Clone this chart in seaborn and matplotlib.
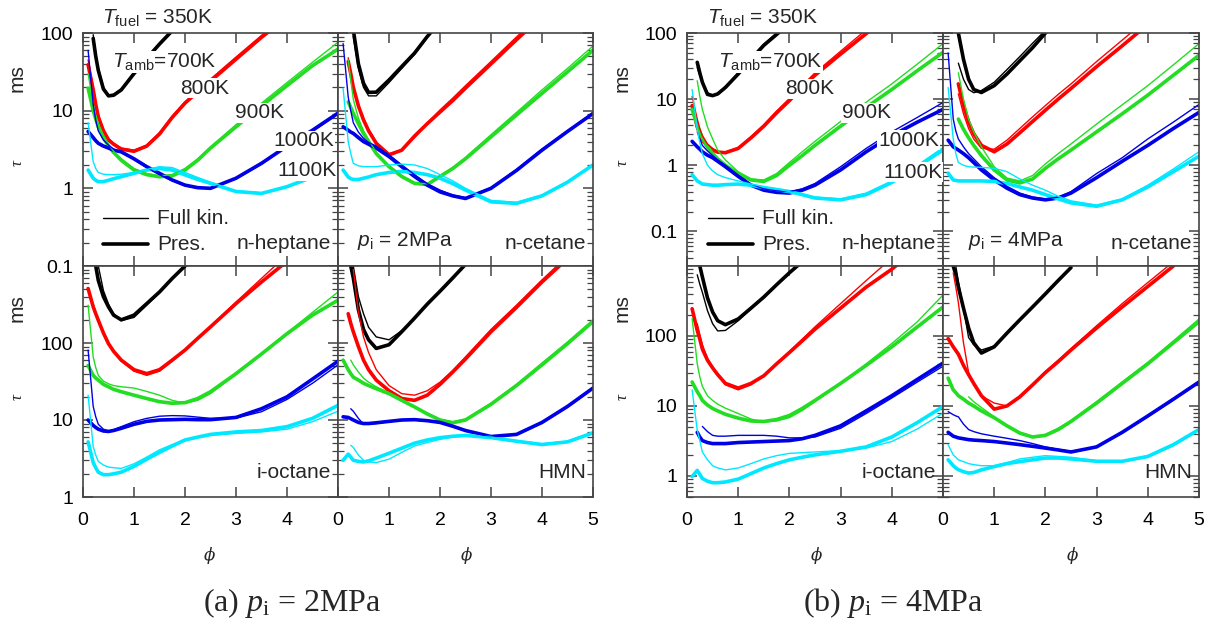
import numpy as np
import matplotlib
matplotlib.use('Agg')
import matplotlib.pyplot as plt
import seaborn as sns
from matplotlib.lines import Line2D
from matplotlib.ticker import FixedLocator, FixedFormatter, LogLocator, NullFormatter

N = None
PHI = [0.1, 0.2, 0.25, 0.3, 0.4, 0.5, 0.6, 0.75, 1.0, 1.25, 1.5, 1.75, 2.0, 2.25, 2.5, 3.0, 3.5, 4.0, 4.5, 5.0]
TEMPS = ['700K', '800K', '900K', '1000K', '1100K']
COLORS = ['#000000', '#ff0000', '#22dd22', '#0000e6', '#00e8ff']

# ---------------- 2 MPa : n-heptane ----------------
hep2_pres = [
    [N, 85, 50, 33, 19, 15.5, 15.8, 18.5, 30, 47, 72, 107, 160, N, N, N, N, N, N, N],
    [39, 18.6, 12, 8.3, 5.5, 4.2, 3.7, 3.2, 3.0, 3.5, 5.0, 8.2, 12.5, 17.5, 24, 46, 88, 160, N, N],
    [19.5, 10, 7.8, 6.2, 4.5, 3.5, 2.9, 2.3, 1.72, 1.5, 1.41, 1.45, 1.72, 2.3, 3.3, 6.2, 11.5, 21, 38, 62],
    [5.4, 4.5, 4.1, 3.8, 3.5, 3.3, 3.1, 2.95, 2.4, 1.9, 1.56, 1.28, 1.1, 1.02, 1.0, 1.35, 2.1, 3.5, 5.6, 9.3],
    [1.72, 1.35, 1.27, 1.22, 1.22, 1.27, 1.33, 1.41, 1.56, 1.72, 1.8, 1.72, 1.49, 1.3, 1.16, 0.91, 0.86, 1.05, 1.4, 1.9],
]
hep2_full = [
    [N, 95, 55, 35, 20, 16, 16.2, 19, 31, 48, 74, 110, 165, N, N, N, N, N, N, N],
    [45, 20, 13, 9, 5.8, 4.4, 3.8, 3.3, 3.1, 3.6, 5.2, 8.5, 13, 18, 25.5, 49, 93, 170, N, N],
    [30, 12, 8.5, 6.8, 4.8, 3.7, 3.0, 2.4, 1.8, 1.55, 1.45, 1.5, 1.8, 2.4, 3.4, 6.6, 12.5, 23, 42, 76],
    [60, 12, 7.5, 5.5, 4.2, 3.6, 3.2, 2.9, 2.35, 1.85, 1.5, 1.25, 1.08, 1.0, 1.0, 1.32, 2.05, 3.4, 5.4, 9.0],
    [7, 2.2, 1.8, 1.6, 1.52, 1.5, 1.5, 1.52, 1.6, 1.75, 1.9, 1.85, 1.6, 1.38, 1.2, 0.93, 0.87, 1.03, 1.35, 1.8],
]
# ---------------- 2 MPa : n-cetane ----------------
cet2_pres = [
    [N, N, N, 110, 40, 22.5, 17.2, 17.3, 24.8, 37, 55, 90, 140, N, N, N, N, N, N, N],
    [N, 43, 30, 20, 11.5, 7.6, 5.5, 3.8, 2.7, 3.1, 4.7, 6.8, 9.6, 13.5, 19.5, 40, 82, 165, N, N],
    [N, 13, 11, 9.2, 6.8, 5.1, 4.0, 2.8, 1.9, 1.42, 1.16, 1.12, 1.42, 1.8, 2.4, 4.6, 8.8, 16.7, 31.6, 60],
    [6.2, 5.6, 5.3, 5.1, 4.5, 4.0, 3.7, 3.3, 2.57, 1.9, 1.42, 1.1, 0.9, 0.8, 0.74, 1.0, 1.7, 3.1, 5.4, 9.2],
    [1.72, 1.4, 1.33, 1.3, 1.3, 1.35, 1.4, 1.5, 1.6, 1.65, 1.6, 1.5, 1.35, 1.15, 0.95, 0.67, 0.64, 0.8, 1.2, 2.0],
]
cet2_full = [
    [N, N, N, 90, 35, 20, 15.5, 15.5, 23, 35, 53, 88, 140, N, N, N, N, N, N, N],
    [N, 48, 32, 21, 12, 8, 5.8, 3.9, 2.8, 3.1, 4.5, 6.9, 10.2, 14.5, 21, 43, 89, 180, N, N],
    [N, 45, 25, 14, 8, 5.5, 4.2, 2.9, 1.95, 1.45, 1.18, 1.14, 1.45, 1.85, 2.5, 4.9, 9.5, 18.5, 35, 68],
    [73, 15, 10, 7, 5.3, 4.4, 3.9, 3.5, 2.7, 2.0, 1.5, 1.15, 0.95, 0.82, 0.76, 1.02, 1.75, 3.2, 5.5, 9.4],
    [19.5, 4, 2.8, 2.1, 1.95, 1.9, 1.9, 1.9, 2.0, 2.05, 2.0, 1.8, 1.5, 1.25, 1.0, 0.7, 0.66, 0.82, 1.22, 2.0],
]
# ---------------- 2 MPa : i-octane ----------------
oct2_pres = [
    [N, N, 1000, 650, 400, 294, 230, 200, 230, 325, 460, 690, 1000, 1450, N, N, N, N, N, N],
    [510, 295, 240, 197, 135, 98, 78, 60, 45, 40, 45, 60, 81, 115, 162, 325, 620, 1150, N, N],
    [51, 38, 35, 33, 29, 27, 25, 23.3, 21, 19, 17.3, 16.5, 16.8, 19, 23.3, 40, 72, 132, 230, 360],
    [10, 8.5, 8.0, 7.6, 7.2, 7.1, 7.3, 7.8, 8.8, 9.6, 10.0, 10.1, 10.2, 10.1, 10.1, 10.8, 14, 20, 34, 58],
    [5.2, 2.8, 2.4, 2.1, 1.95, 1.95, 2.0, 2.1, 2.5, 3.1, 3.8, 4.6, 5.5, 6.0, 6.5, 7.0, 7.3, 8.2, 10.5, 15.5],
]
oct2_full = [
    [N, N, N, 1000, 480, 320, 240, 195, 215, 310, 450, 680, 1000, N, N, N, N, N, N, N],
    [N, 320, 250, 205, 140, 100, 78, 58, 43, 38, 43, 58, 80, 115, 165, 340, 690, 1400, N, N],
    [310, 66, 48, 38, 32, 29.5, 28, 27, 26, 23.5, 21, 18, 16.5, 18, 22, 39, 72, 135, 250, 460],
    [81, 15, 11, 8.8, 7.6, 7.2, 7.5, 8.2, 9.5, 10.5, 11.2, 11.4, 11.3, 10.9, 10.5, 10.6, 12.8, 18.5, 30, 52],
    [21, 4.5, 3.5, 2.9, 2.6, 2.45, 2.4, 2.35, 2.7, 3.3, 4.1, 4.8, 5.5, 5.9, 6.3, 6.7, 7.0, 7.6, 9.5, 13],
]
# ---------------- 2 MPa : HMN ----------------
hmn2_pres = [
    [N, N, 1000, 700, 270, 150, 110, 85, 95, 140, 210, 320, 470, 700, 1050, N, N, N, N, N],
    [N, 240, 180, 140, 90, 60, 45, 33, 24, 19, 18, 21, 29, 42, 62, 140, 290, 620, 1250, N],
    [60, 45, 40, 36, 33, 30, 28, 25.5, 22, 18, 14.8, 12, 10, 9.2, 10, 16, 28, 52, 98, 190],
    [11, 10.8, 10.4, 10, 9.3, 9, 9, 9.2, 9.6, 10, 10.1, 9.8, 9.3, 8.3, 7.3, 6.1, 6.5, 9.3, 15, 26],
    [3.0, 3.6, 3.3, 3.0, 2.9, 2.85, 2.95, 3.2, 3.7, 4.3, 5.0, 5.5, 5.9, 6.15, 6.3, 5.9, 5.3, 4.8, 5.2, 6.8],
]
hmn2_full = [
    [N, N, N, 1000, 400, 240, 160, 120, 110, 145, 210, 310, 460, 680, 1050, N, N, N, N, N],
    [N, N, N, 900, 250, 120, 75, 45, 28, 22, 21, 24, 31, 44, 66, 150, 310, 660, 1350, N],
    [N, N, 60, 52, 42, 35, 31, 27, 22.5, 18, 15, 12.2, 10.2, 9.5, 10.3, 16.5, 29, 55, 103, 200],
    [N, N, 14, 13, 10.5, 8.8, 8.8, 9.0, 9.5, 9.9, 10.0, 9.7, 9.2, 8.2, 7.2, 6.0, 6.4, 9.1, 14.7, 25.5],
    [N, N, 4.7, 4.4, 3.5, 3.0, 2.85, 2.8, 3.1, 3.8, 4.6, 5.1, 5.6, 6.0, 6.2, 6.0, 5.4, 4.9, 5.3, 6.9],
]
# ---------------- 4 MPa : n-heptane ----------------
hep4_pres = [
    [N, 36, 25, 18, 11.8, 11.3, 12, 15, 24, 40, 65, 95, 140, N, N, N, N, N, N, N],
    [8, 3.8, 3.0, 2.4, 1.95, 1.7, 1.58, 1.55, 1.8, 2.6, 3.9, 6.2, 9.5, 15, 23, 48, 98, 200, N, N],
    [7, 4, 3.2, 2.6, 1.9, 1.5, 1.25, 1.0, 0.75, 0.6, 0.57, 0.7, 1.0, 1.4, 2.0, 3.9, 7.5, 14, 27, 51],
    [2.3, 1.9, 1.75, 1.6, 1.42, 1.3, 1.15, 0.95, 0.68, 0.5, 0.42, 0.39, 0.38, 0.42, 0.5, 0.85, 1.6, 2.8, 4.5, 7.0],
    [0.72, 0.58, 0.55, 0.52, 0.51, 0.5, 0.5, 0.51, 0.52, 0.5, 0.46, 0.43, 0.4, 0.36, 0.32, 0.3, 0.36, 0.55, 0.95, 1.7],
]
hep4_full = [
    [N, 30, 23, 18, 12.5, 11.5, 12, 15.5, 25, 42, 68, 100, 150, N, N, N, N, N, N, N],
    [11, 5, 3.6, 2.8, 2.1, 1.8, 1.62, 1.58, 1.85, 2.7, 4.1, 6.6, 10.2, 16, 25, 53, 112, 230, N, N],
    [N, 19, 11, 7, 3.8, 2.5, 1.7, 1.2, 0.8, 0.62, 0.6, 0.75, 1.1, 1.6, 2.3, 4.6, 9, 17, 34, 69],
    [N, 3.2, 2.5, 2.0, 1.65, 1.4, 1.2, 1.0, 0.7, 0.52, 0.44, 0.41, 0.4, 0.44, 0.53, 0.95, 1.8, 3.2, 5.3, 8.9],
    [14, 3.5, 2.2, 1.5, 1.0, 0.82, 0.72, 0.65, 0.58, 0.52, 0.47, 0.44, 0.4, 0.36, 0.33, 0.31, 0.38, 0.58, 1.0, 1.85],
]
# ---------------- 4 MPa : n-cetane ----------------
cet4_pres = [
    [N, N, N, 100, 40, 20, 14, 12.6, 16, 24, 38, 60, 100, 160, N, N, N, N, N, N],
    [N, N, N, 17, 8, 4.5, 3.0, 2.0, 1.6, 2.1, 3.1, 4.6, 6.8, 10, 14.5, 31, 64, 135, N, N],
    [N, N, N, 5, 3.5, 2.6, 2.0, 1.4, 0.85, 0.6, 0.54, 0.62, 0.9, 1.25, 1.7, 3.2, 6.0, 11.5, 23, 46],
    [2.4, 1.9, 1.8, 1.7, 1.5, 1.3, 1.1, 0.85, 0.6, 0.45, 0.36, 0.32, 0.30, 0.32, 0.38, 0.65, 1.15, 2.0, 3.6, 6.3],
    [0.76, 0.6, 0.59, 0.58, 0.58, 0.58, 0.58, 0.58, 0.57, 0.53, 0.47, 0.42, 0.36, 0.31, 0.27, 0.24, 0.3, 0.47, 0.8, 1.37],
]
cet4_full = [
    [N, N, N, 35, 20, 14, 12.5, 13.5, 18, 28, 44, 70, 110, N, N, N, N, N, N, N],
    [N, N, N, 12, 6, 3.6, 2.5, 1.8, 1.75, 2.4, 3.6, 5.4, 8, 11.8, 17, 37, 78, 165, N, N],
    [N, N, N, 25, 10, 5, 3.2, 1.9, 0.95, 0.64, 0.58, 0.7, 1.05, 1.5, 2.1, 4.2, 8.2, 16, 33, 69],
    [50, 5, 3.3, 2.5, 1.9, 1.5, 1.25, 0.95, 0.65, 0.48, 0.38, 0.33, 0.31, 0.33, 0.40, 0.75, 1.3, 2.5, 4.5, 8.3],
    [15, 2.5, 1.5, 1.1, 1.0, 0.95, 0.94, 0.93, 0.9, 0.8, 0.62, 0.5, 0.42, 0.34, 0.29, 0.25, 0.31, 0.5, 0.88, 1.6],
]
# ---------------- 4 MPa : i-octane ----------------
oct4_pres = [
    [N, N, 1000, 700, 350, 220, 165, 145, 175, 250, 360, 540, 800, 1150, N, N, N, N, N, N],
    [245, 120, 90, 65, 45, 35, 28, 21, 18, 21, 27, 40, 58, 85, 125, 250, 500, 900, 1800, N],
    [22, 16, 14, 12, 10.3, 9.2, 8.5, 7.6, 6.7, 6.1, 6.0, 6.4, 7.3, 9.2, 12, 21, 38, 70, 135, 260],
    [N, 4.2, 3.6, 3.2, 3.0, 2.9, 2.9, 2.9, 3.0, 3.05, 3.1, 3.15, 3.2, 3.4, 3.8, 5.2, 8.5, 14, 24, 41],
    [0.98, 1.2, 1.05, 0.92, 0.84, 0.8, 0.8, 0.82, 0.9, 1.08, 1.3, 1.5, 1.7, 1.85, 2.0, 2.25, 2.6, 3.6, 5.8, 9.8],
]
oct4_full = [
    [N, 750, 550, 420, 230, 150, 118, 120, 165, 245, 350, 530, 780, 1150, N, N, N, N, N, N],
    [N, 150, 105, 75, 48, 36, 28, 20, 17, 20, 27, 40, 60, 90, 135, 290, 620, 1300, N, N],
    [178, 40, 26, 19, 14, 12, 10.6, 9.3, 7.8, 6.5, 5.9, 6.1, 6.8, 8.6, 11.5, 21, 40, 78, 160, 385],
    [N, N, N, 5.1, 4.3, 3.8, 3.7, 3.7, 3.8, 3.8, 3.8, 3.7, 3.5, 3.5, 3.6, 4.8, 7.8, 13, 22, 37],
    [17, 4.5, 3.2, 2.2, 1.7, 1.4, 1.3, 1.22, 1.3, 1.5, 1.75, 1.95, 2.1, 2.15, 2.2, 2.3, 2.5, 3.1, 4.7, 7.9],
]
# ---------------- 4 MPa : HMN ----------------
hmn4_pres = [
    [N, 1000, 750, 500, 250, 130, 80, 57, 70, 110, 170, 260, 400, 620, 950, N, N, N, N, N],
    [92, 70, 62, 55, 38, 28, 21, 14, 9, 10, 13.5, 20, 30, 43, 63, 130, 260, 510, 1000, N],
    [25, 17, 15.5, 14, 12.5, 11, 10, 8.5, 6.8, 5.2, 4.1, 3.6, 3.8, 4.6, 6, 11, 21, 40, 80, 160],
    [4.2, 3.7, 3.6, 3.5, 3.4, 3.3, 3.25, 3.2, 3.1, 2.95, 2.8, 2.65, 2.5, 2.35, 2.2, 2.6, 4.2, 7.2, 12.5, 22],
    [1.7, 1.4, 1.3, 1.23, 1.15, 1.1, 1.12, 1.22, 1.36, 1.5, 1.6, 1.7, 1.8, 1.8, 1.75, 1.62, 1.62, 1.9, 2.8, 4.6],
]
hmn4_full = [
    [N, N, 1000, 600, 250, 95, 75, 63, 72, 110, 170, 260, 400, 620, 960, N, N, N, N, N],
    [N, 800, 500, 300, 80, 30, 20, 14, 11, 10, 13, 20, 31, 45, 66, 140, 290, 580, 1150, N],
    [N, N, N, N, N, 13.5, 11.5, 9.5, 7, 5.2, 4.0, 3.55, 3.9, 4.8, 6.2, 11.5, 22, 42, 85, 175],
    [8.3, 7.5, 7.2, 7, 5.5, 4.6, 4.3, 4.0, 3.7, 3.45, 3.2, 2.9, 2.6, 2.4, 2.25, 2.6, 4.1, 7.0, 12.2, 21.5],
    [2.8, 2.0, 1.85, 1.7, 1.6, 1.5, 1.45, 1.4, 1.4, 1.55, 1.75, 1.85, 1.95, 1.9, 1.85, 1.65, 1.6, 1.85, 2.7, 4.5],
]

FUELS = ['n-heptane', 'n-cetane', 'i-octane', 'HMN']

# ---------------------------------------------------------------------------
sns.set_style('ticks')
plt.rcParams['font.family'] = ['Liberation Sans', 'DejaVu Sans']
plt.rcParams['mathtext.fontset'] = 'custom'
plt.rcParams['mathtext.rm'] = 'Liberation Serif'
plt.rcParams['mathtext.it'] = 'Liberation Serif:italic'
plt.rcParams['mathtext.sf'] = 'Liberation Sans'
plt.rcParams['mathtext.bf'] = 'Liberation Sans:italic'

W, H = 1211, 627
fig = plt.figure(figsize=(W / 100, H / 100), dpi=100)
SPINE = '#444444'


def add_ax(x0, y0, x1, y1):
    return fig.add_axes([x0 / W, 1 - y1 / H, (x1 - x0) / W, (y1 - y0) / H])


def fx(x):
    return x / W


def fy(y):
    return 1 - y / H


panels = [
    # x0, y0, x1, y1, full, pres, ylim, yticks, left_col, bottom_row, fuel
    (83, 33, 338, 266, hep2_full, hep2_pres, (0.1, 100), [0.1, 1, 10, 100], True, False, 0),
    (338, 33, 593, 266, cet2_full, cet2_pres, (0.1, 100), [0.1, 1, 10, 100], False, False, 1),
    (83, 266, 338, 497, oct2_full, oct2_pres, (1, 1000), [1, 10, 100], True, True, 2),
    (338, 266, 593, 497, hmn2_full, hmn2_pres, (1, 1000), [1, 10, 100], False, True, 3),
    (687, 33, 943, 266, hep4_full, hep4_pres, (0.03, 100), [0.1, 1, 10, 100], True, False, 0),
    (943, 33, 1199, 266, cet4_full, cet4_pres, (0.03, 100), [0.1, 1, 10, 100], False, False, 1),
    (687, 266, 943, 497, oct4_full, oct4_pres, (0.5, 1000), [1, 10, 100], True, True, 2),
    (943, 266, 1199, 497, hmn4_full, hmn4_pres, (0.5, 1000), [1, 10, 100], False, True, 3),
]

phi = np.array(PHI, dtype=float)
for (x0, y0, x1, y1, full, pres, ylim, yt, left, bottom, fi) in panels:
    ax = add_ax(x0, y0, x1, y1)
    for data, lw in ((pres, 2.6), (full, 1.0)):
        for k, vals in enumerate(data):
            v = np.array(vals, dtype=float)
            m = ~np.isnan(v)
            sns.lineplot(x=phi[m], y=v[m], ax=ax, color=COLORS[k], linewidth=lw,
                         estimator=None, sort=False, legend=False)
    ax.set_yscale('log')
    ax.set_xlim(0, 5)
    ax.set_ylim(*ylim)
    ax.set_xlabel('')
    ax.set_ylabel('')
    ax.xaxis.set_major_locator(FixedLocator([0, 1, 2, 3, 4, 5]))
    if left:
        ax.xaxis.set_major_formatter(FixedFormatter(['0', '1', '2', '3', '4', '']))
    else:
        ax.xaxis.set_major_formatter(FixedFormatter(['0', '1', '2', '3', '4', '5']))
    ax.yaxis.set_major_locator(FixedLocator(yt))
    ax.yaxis.set_major_formatter(FixedFormatter([('%g' % t) for t in yt]))
    ax.yaxis.set_minor_locator(LogLocator(base=10, subs=np.arange(2, 10)))
    ax.yaxis.set_minor_formatter(NullFormatter())
    ax.tick_params(which='both', direction='in', top=True, right=True, colors=SPINE,
                   labelcolor='black', labelsize=14)
    ax.tick_params(which='major', length=7, width=1.1)
    ax.tick_params(which='minor', length=4, width=0.9)
    ax.tick_params(axis='x', pad=11, labelbottom=bottom)
    ax.tick_params(axis='y', pad=7, labelleft=left)
    for s in ax.spines.values():
        s.set_color(SPINE)
        s.set_linewidth(1.2)
    ax.set_facecolor('white')

    # fuel name
    fy_name = 243 if y0 == 33 else 473
    ax.text((x1 - 7 - x0) / (x1 - x0), 1 - (fy_name - y0) / (y1 - y0), FUELS[fi],
            transform=ax.transAxes, ha='right', va='center', fontsize=15)

# ---------------- annotations ----------------
TFS = 15
for gx, pl in ((0, '2MPa'), (605, '4MPa')):
    fig.text(fx(102 + gx), fy(17), r'$\mathbf{T}_{\mathsf{fuel}}$ = 350K', fontsize=TFS,
             ha='left', va='center')
    # p_i label in n-cetane panel
    px = 357 if gx == 0 else 968
    fig.text(fx(px), fy(241), r'$\mathbf{p}_{\mathsf{i}}$ = ' + pl, fontsize=TFS, ha='left', va='center')
    # legend
    lx0 = 103 + gx
    fig.add_artist(Line2D([fx(lx0), fx(lx0 + 45)], [fy(218), fy(218)], color='black', lw=1.0))
    fig.add_artist(Line2D([fx(lx0), fx(lx0 + 45)], [fy(244), fy(244)], color='black', lw=2.6))
    fig.text(fx(lx0 + 54), fy(218), 'Full kin.', fontsize=TFS, ha='left', va='center')
    fig.text(fx(lx0 + 54), fy(244), 'Pres.', fontsize=TFS, ha='left', va='center')

bb = dict(facecolor='white', edgecolor='none', pad=0.5)
temp_pos_left = [(112, 62), (180, 88), (235, 113), (273, 141), (277, 171)]
temp_pos_right = [(718, 62), (785, 89), (842, 113), (878, 140), (883, 172)]
for pos in (temp_pos_left, temp_pos_right):
    for k, (tx, ty) in enumerate(pos):
        lab = TEMPS[k] if k > 0 else r'$\mathbf{T}_{\mathsf{amb}}$=' + TEMPS[0]
        fig.text(fx(tx), fy(ty), lab, fontsize=TFS, ha='left', va='center', bbox=bb)

# axis labels
for gx in (0, 605):
    for (ms_y, tau_y) in ((78, 163), (308, 397)):
        fig.text(fx(17 + gx), fy(ms_y), 'ms', fontsize=15, rotation=90, ha='center', va='center')
        fig.text(fx(18 + gx), fy(tau_y), 'τ', fontsize=12, rotation=90, ha='center', va='center',
                 family=['Liberation Serif', 'DejaVu Serif'], style='italic')
for x in (210, 467, 817, 1073):
    fig.text(fx(x), fy(556), 'ϕ', fontsize=12, ha='center', va='center',
             family=['DejaVu Serif'], style='italic')

cap_font = ['Liberation Serif', 'DejaVu Serif']
fig.text(fx(292), fy(603), r'(a) $p_{\mathrm{i}}$ = 2MPa', fontsize=23, ha='center', va='center',
         family=cap_font)
fig.text(fx(893), fy(603), r'(b) $p_{\mathrm{i}}$ = 4MPa', fontsize=23, ha='center', va='center',
         family=cap_font)

fig.savefig('out.png', dpi=100, facecolor='white')
